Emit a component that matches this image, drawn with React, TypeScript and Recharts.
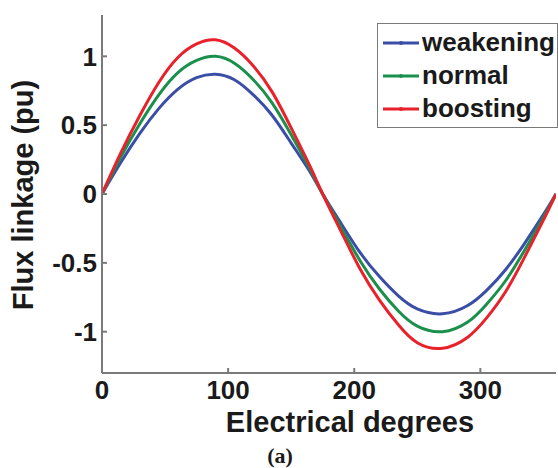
import { LineChart, Line, XAxis, YAxis, Legend } from "recharts";

const degrees = [0, 15, 30, 45, 60, 75, 90, 105, 120, 135, 150, 165, 175, 190, 205, 220, 235, 250, 270, 290, 305, 320, 335, 350, 360];
const weakening = [0, 0.23, 0.44, 0.62, 0.76, 0.845, 0.87, 0.83, 0.72, 0.57, 0.37, 0.16, 0, -0.22, -0.43, -0.6, -0.74, -0.835, -0.87, -0.81, -0.7, -0.55, -0.36, -0.15, 0];
const normal = [0, 0.27, 0.51, 0.72, 0.88, 0.97, 1.0, 0.95, 0.83, 0.66, 0.43, 0.18, 0, -0.25, -0.49, -0.69, -0.85, -0.96, -1.0, -0.93, -0.8, -0.63, -0.41, -0.17, 0];
const boosting = [0, 0.3, 0.57, 0.81, 0.99, 1.09, 1.12, 1.06, 0.93, 0.74, 0.48, 0.2, 0, -0.28, -0.55, -0.77, -0.95, -1.08, -1.12, -1.04, -0.9, -0.71, -0.46, -0.19, 0];
const xTicks = [0, 100, 200, 300];
const yTicks = [-1, -0.5, 0, 0.5, 1];

const series = [
  { key: "weakening", color: "#3b4ea6" },
  { key: "normal", color: "#1b8f4c" },
  { key: "boosting", color: "#e8212b" },
];

const data = degrees.map((d, i) => ({
  deg: d,
  weakening: weakening[i],
  normal: normal[i],
  boosting: boosting[i],
}));

const FONT = "'Liberation Sans', Arial, sans-serif";
const AXIS = "#7a7a7a";
const tickStyle = { fontSize: 26, fontWeight: 700, fill: "#1a1a1a", fontFamily: FONT };

function LegendBox() {
  return (
    <div
      style={{
        border: `1.5px solid ${AXIS}`,
        background: "#fff",
        padding: "2px 0 2px 5px",
        fontFamily: FONT,
        fontWeight: 700,
        fontSize: 26,
        color: "#1a1a1a",
      }}
    >
      {series.map((s) => (
        <div key={s.key} style={{ display: "flex", alignItems: "center", height: 33 }}>
          <svg width={36} height={10} style={{ marginRight: 3 }}>
            <line x1={0} y1={5} x2={36} y2={5} stroke={s.color} strokeWidth={3} />
            <circle cx={18} cy={5} r={2} fill={s.color} />
          </svg>
          <span>{s.key}</span>
        </div>
      ))}
    </div>
  );
}

export default function App() {
  return (
    <div style={{ position: "relative", width: 558, height: 468, overflow: "hidden", background: "#fff" }}>
      <style>{"body{margin:0}"}</style>
      <LineChart width={558} height={468} data={data} margin={{ top: 15, right: 2, left: 42, bottom: 65 }}>
        <XAxis
          dataKey="deg"
          type="number"
          domain={[0, 360]}
          ticks={xTicks}
          allowDataOverflow
          stroke={AXIS}
          strokeWidth={2}
          tickSize={-5}
          tickMargin={13}
          tick={tickStyle}
          height={30}
          label={(props: any) => {
            const vb = props.viewBox;
            return (
              <text
                x={vb.x + vb.width / 2 + 21}
                y={432}
                textAnchor="middle"
                style={{ fontSize: 29, fontWeight: 700, fontFamily: FONT, fill: "#1a1a1a" }}
              >
                Electrical degrees
              </text>
            );
          }}
        />
        <XAxis
          xAxisId="top"
          orientation="top"
          dataKey="deg"
          type="number"
          domain={[0, 360]}
          ticks={xTicks}
          stroke={AXIS}
          strokeWidth={2}
          tickSize={-5}
          tick={false}
          height={0}
        />
        <YAxis
          type="number"
          domain={[-1.3, 1.3]}
          ticks={yTicks}
          allowDataOverflow
          stroke={AXIS}
          strokeWidth={2}
          tickSize={-5}
          tickMargin={10}
          tick={tickStyle}
          width={60}
          label={(props: any) => {
            const vb = props.viewBox;
            const cy = vb.y + vb.height / 2 + 1;
            return (
              <text
                x={33}
                y={cy}
                textAnchor="middle"
                transform={`rotate(-90, 33, ${cy})`}
                style={{ fontSize: 29, fontWeight: 700, fontFamily: FONT, fill: "#1a1a1a" }}
              >
                Flux linkage (pu)
              </text>
            );
          }}
        />
        <YAxis
          yAxisId="right"
          orientation="right"
          type="number"
          domain={[-1.3, 1.3]}
          ticks={yTicks}
          stroke={AXIS}
          strokeWidth={2}
          tickSize={-5}
          tick={false}
          width={0}
        />
        <Legend
          layout="vertical"
          align="center"
          verticalAlign="middle"
          content={() => <LegendBox />}
          wrapperStyle={{ position: "absolute", left: 377, top: 23, width: 181, bottom: "auto" }}
        />
        {series.map((s) => (
          <Line
            key={s.key}
            type="natural"
            dataKey={s.key}
            stroke={s.color}
            strokeWidth={3}
            dot={false}
            isAnimationActive={false}
          />
        ))}
      </LineChart>
      <div
        style={{
          position: "absolute",
          left: 0,
          width: 560,
          top: 443,
          textAlign: "center",
          fontFamily: "'Liberation Serif', 'Times New Roman', serif",
          fontWeight: 700,
          fontSize: 22,
          color: "#1a1a1a",
        }}
      >
        (a)
      </div>
    </div>
  );
}
